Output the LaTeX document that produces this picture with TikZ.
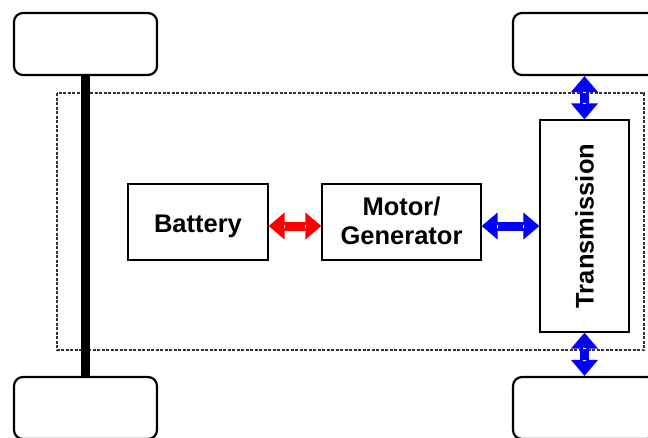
\documentclass[tikz,border=0pt]{standalone}
\usepackage{fontspec}
\setmainfont{Liberation Sans}
\usetikzlibrary{arrows.meta}
\begin{document}
\begin{tikzpicture}[x=1pt,y=-1pt,
  wheel/.style={draw, line width=2.2pt, rounded corners=9pt, minimum width=143pt, minimum height=62pt, inner sep=0pt},
  unit/.style={draw, line width=1.2pt, fill=white, font=\fontsize{25.5}{29}\selectfont\bfseries, align=center, inner sep=0pt},
  dblarrow/.style={line width=9pt, {Triangle[width=26pt,length=16pt]}-{Triangle[width=26pt,length=16pt]}},
  tick/.style={white, line width=0.8pt}]
\useasboundingbox (0,0) rectangle (648,437);
% wheels
\node[wheel] (tl) at (85.5,44) {};
\node[wheel] (bl) at (85.5,408) {};
\node[wheel] (tr) at (584.5,44) {};
\node[wheel] (br) at (584.5,408) {};
% chassis
\draw[line width=1.3pt, dash pattern=on 3pt off 1.5pt, black!80] (57,93) rectangle (644,350);
% axle
\draw[line width=9pt] (tl.south) -- (bl.north);
% units
\node[unit, minimum width=140pt, minimum height=76pt] (bat) at (198,222) {\raisebox{-4pt}[\height][\depth]{Battery}};
\node[unit, minimum width=159pt, minimum height=76pt] (mg) at (401.5,222) {\raisebox{-2.5pt}[\height][\depth]{\begin{tabular}{@{}c@{}}Motor/\\Generator\end{tabular}}};
\node[unit, minimum width=89pt, minimum height=212pt] (tx) at (584.5,226) {\rotatebox{90}{Transmission}};
% arrows
\draw[dblarrow, red] (bat.east |- 0,226) -- (mg.west |- 0,226);
\draw[dblarrow, blue] (mg.east |- 0,226) -- (tx.west |- 0,226);
\draw[dblarrow, blue] (tr.south) -- (tx.north);
\draw[dblarrow, blue] (tx.south) -- (br.north);
% small white marks at the head bases
\foreach \a/\b in {bat.east/mg.west, mg.east/tx.west}{
  \draw[tick] ([xshift=16pt]\a |- 0,224.5) -- ([xshift=16pt]\a |- 0,227.5);
  \draw[tick] ([xshift=-16pt]\b |- 0,224.5) -- ([xshift=-16pt]\b |- 0,227.5);
}
\foreach \a/\b in {tr.south/tx.north, tx.south/br.north}{
  \draw[tick] ([xshift=-1.5pt,yshift=-16pt]\a) -- ([xshift=1.5pt,yshift=-16pt]\a);
  \draw[tick] ([xshift=-1.5pt,yshift=16pt]\b) -- ([xshift=1.5pt,yshift=16pt]\b);
}
\end{tikzpicture}
\end{document}
